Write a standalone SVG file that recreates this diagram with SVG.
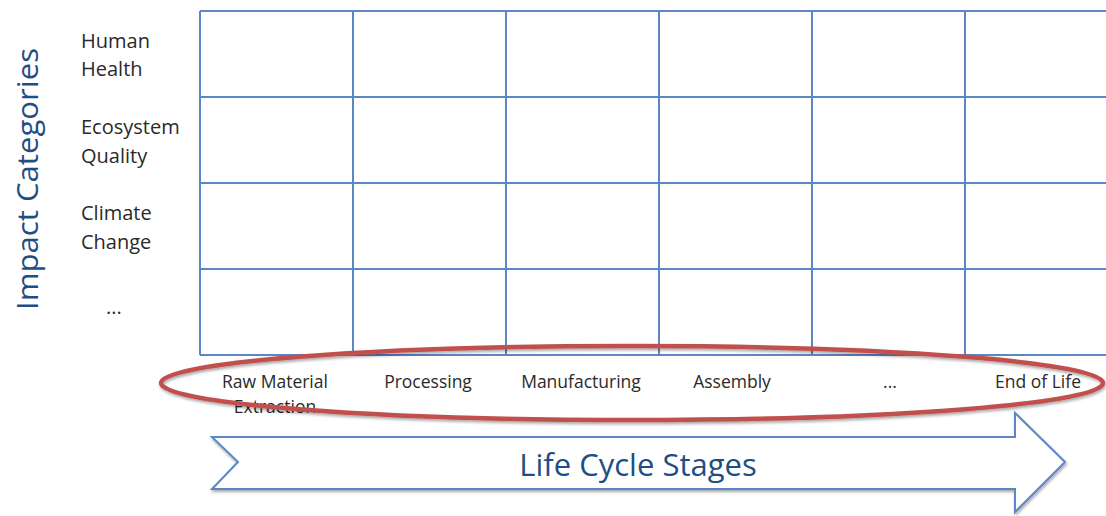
<svg xmlns="http://www.w3.org/2000/svg" width="1106" height="516" viewBox="0 0 1106 516">
<defs>
<style>
.grid{fill:none;stroke:#5B87C7;stroke-width:2}
.lbl{font-family:"Open Sans","Liberation Sans",sans-serif;font-size:20px;fill:#2a2a2a}
.stg{font-family:"Open Sans","Liberation Sans",sans-serif;font-size:17.5px;fill:#2a2a2a;text-anchor:middle}
.title{font-family:"Open Sans","Liberation Sans",sans-serif;fill:#1F4E85}
</style>
<filter id="sh" x="-5%" y="-20%" width="110%" height="140%">
<feGaussianBlur in="SourceAlpha" stdDeviation="1.5"/>
<feOffset dx="1" dy="2" result="b"/>
<feComponentTransfer><feFuncA type="linear" slope="0.35"/></feComponentTransfer>
<feMerge><feMergeNode/><feMergeNode in="SourceGraphic"/></feMerge>
</filter>
</defs>
<rect width="1106" height="516" fill="#fff"/>
<g id="grid">
<path class="grid" d="M200,11H1106M200,97H1106M200,183H1106M200,269H1106M200,355H1106M200,11V355M353,11V355M506,11V355M659,11V355M812,11V355M965,11V355"/>
</g>
<g id="axis-title">
<text class="title" font-size="29" text-anchor="middle" transform="translate(38,179) rotate(-90)" textLength="262" lengthAdjust="spacingAndGlyphs">Impact Categories</text>
</g>
<g id="categories">
<text class="lbl" x="81" y="48">Human</text>
<text class="lbl" x="81" y="76">Health</text>
<text class="lbl" x="81" y="134">Ecosystem</text>
<text class="lbl" x="81" y="163">Quality</text>
<text class="lbl" x="81" y="220">Climate</text>
<text class="lbl" x="81" y="249">Change</text>
<text class="lbl" x="106" y="314">...</text>
</g>
<g id="stages">
<text class="stg" x="275" y="388">Raw Material</text>
<text class="stg" x="275" y="413">Extraction</text>
<text class="stg" x="428" y="388">Processing</text>
<text class="stg" x="581" y="388">Manufacturing</text>
<text class="stg" x="732" y="388">Assembly</text>
<text class="stg" x="890" y="388">...</text>
<text class="stg" x="1038" y="388">End of Life</text>
</g>
<g id="highlight">
<ellipse cx="632" cy="383" rx="471" ry="37" fill="none" stroke="#C0504D" stroke-width="4.5" filter="url(#sh)"/>
</g>
<g id="arrow">
<path d="M212,437H1015V413L1065,462L1015,512V489H212L238,462Z" fill="#fff" stroke="#5B87C7" stroke-width="2" filter="url(#sh)"/>
<text class="title" x="638" y="476" font-size="31" text-anchor="middle">Life Cycle Stages</text>
</g>
</svg>
